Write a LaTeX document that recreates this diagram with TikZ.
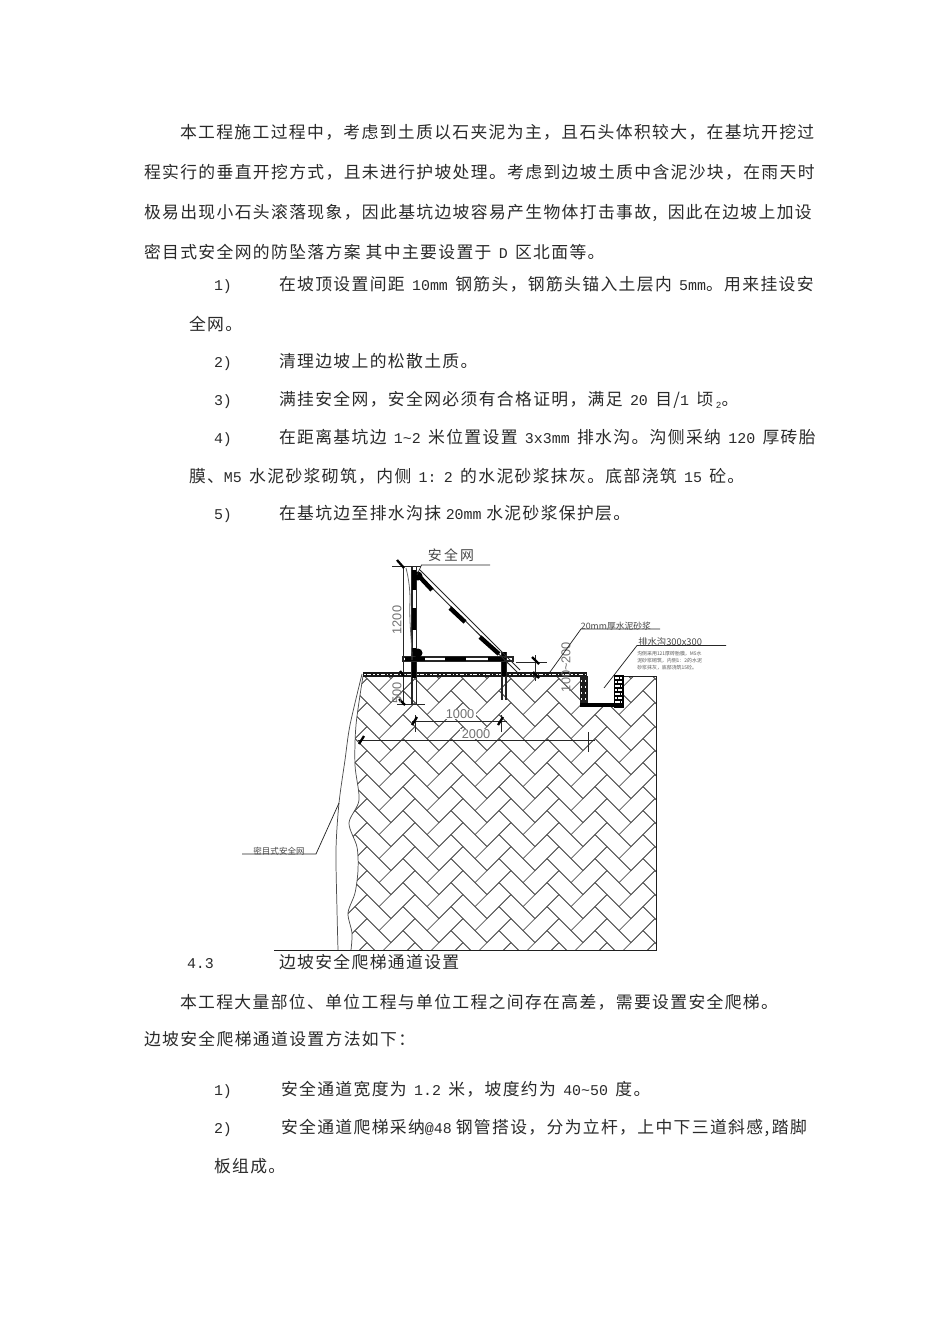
\documentclass[tikz,border=0pt]{standalone}
\usepackage{fontspec}
\setmainfont{Noto Sans CJK SC}[LetterSpace=8.1]
\newfontfamily\monof{Liberation Mono}
\newfontfamily\sansf{Liberation Sans}
\newfontfamily\cnplain{Noto Sans CJK SC}
\newcommand{\mm}[1]{{\monof\fontsize{11.2pt}{13pt}\selectfont #1}}
\newcommand{\gp}{\hspace{5.5pt}}
\definecolor{ink}{HTML}{2A2A2A}
\definecolor{dimc}{HTML}{707070}
\tikzset{
  txt/.style={anchor=base west,yshift=-4.8pt,inner sep=0pt,outer sep=0pt,text=ink,font=\fontsize{12.6pt}{15pt}\selectfont},
  brick/.style={draw=black!66,line width=0.55pt,line join=miter},
  thinl/.style={draw=black!85,line width=0.55pt},
  outl/.style={draw=black!88,line width=0.75pt},
  dimtxt/.style={inner sep=0pt,text=dimc,font=\sansf\fontsize{9.6pt}{11pt}\selectfont},
  slash/.style={draw=black,line width=1.7pt},
  tiny/.style={inner sep=0pt,anchor=west,text=black!65,font=\cnplain\fontsize{3.7pt}{5pt}\selectfont},
  lbl/.style={inner sep=0pt,text=black!72,font=\cnplain\fontsize{7pt}{8pt}\selectfont},
}
\begin{document}
\begin{tikzpicture}[x=0.75pt,y=-0.75pt]
\useasboundingbox (0,0) rectangle (950,1344);
\fill[white] (0,0) rectangle (950,1344);
% body text
\node[txt] (t1) at (180,132) {本工程施工过程中，考虑到土质以石夹泥为主，且石头体积较大，在基坑开挖过};
\node[txt] (t2) at (144,172) {程实行的垂直开挖方式，且未进行护坡处理。考虑到边坡土质中含泥沙块，在雨天时};
\node[txt] (t3) at (144,212) {极易出现小石头滚落现象，因此基坑边坡容易产生物体打击事故,\hspace{8pt}因此在边坡上加设};
\node[txt] (t4) at (144,252) {密目式安全网的防坠落方案 其中主要设置于\gp\mm{D}\gp 区北面等。};
\node[txt] (n1) at (214,284) {\mm{1)}};
\node[txt] (t5) at (279,284) {在坡顶设置间距\gp\mm{10mm}\gp 钢筋头，钢筋头锚入土层内\gp\mm{5mm}。用来挂设安};
\node[txt] (t6) at (189,324) {全网。};
\node[txt] (n2) at (214,361) {\mm{2)}};
\node[txt] (t7) at (279,361) {清理边坡上的松散土质。};
\node[txt] (n3) at (214,399) {\mm{3)}};
\node[txt] (t8) at (279,399) {满挂安全网，安全网必须有合格证明，满足\gp\mm{20}\gp 目/\mm{1}\gp 顷\,\raisebox{-2pt}{\mm{\fontsize{7pt}{8pt}\selectfont 2}}。};
\node[txt] (n4) at (214,437) {\mm{4)}};
\node[txt] (t9) at (279,437) {在距离基坑边\gp\mm{1\char`\~2}\gp 米位置设置\gp\mm{3x3mm}\gp 排水沟。沟侧采纳\gp\mm{120}\gp 厚砖胎};
\node[txt] (t10) at (189,476) {膜、\mm{M5}\gp 水泥砂浆砌筑，内侧\gp\mm{1:\gp 2}\gp 的水泥砂浆抹灰。底部浇筑\gp\mm{15}\gp 砼。};
\node[txt] (n5) at (214,513) {\mm{5)}};
\node[txt] (t11) at (279,513) {在基坑边至排水沟抹\hspace{3.5pt}\mm{20mm}\hspace{3.5pt}水泥砂浆保护层。};
\node[txt] (t12) at (187,962) {\mm{4.3}};
\node[txt] (t13) at (279,962) {边坡安全爬梯通道设置};
\node[txt] (t14) at (180,1002) {本工程大量部位、单位工程与单位工程之间存在高差，需要设置安全爬梯。};
\node[txt] (t15) at (144,1039) {边坡安全爬梯通道设置方法如下：};
\node[txt] (n6) at (214,1089) {\mm{1)}};
\node[txt] (t16) at (281,1089) {安全通道宽度为\gp\mm{1.2}\gp 米，坡度约为\gp\mm{40\char`\~50}\gp 度。};
\node[txt] (n7) at (214,1127) {\mm{2)}};
\node[txt] (t17) at (281,1127) {安全通道爬梯采纳\mm{@48}\hspace{3pt}钢管搭设，分为立杆，上中下三道斜感,\hspace{2pt}踏脚};
\node[txt] (t18) at (214,1166) {板组成。};
% herringbone soil
\begin{scope}
\clip (363,676) -- (580,676) -- (580,707) -- (623,707) -- (623,676) -- (656,676) -- (656,950) -- (351,950)
  -- plot[smooth] coordinates {(351,950) (352,933) (348,913) (355,893) (358,870) (357,847) (349,823) (359,800) (355,765) (356,725) (363,676)} -- cycle;
\foreach \i in {0,...,8} \foreach \j in {0,...,13} {
  \draw[brick,shift={(\i*48+307,\j*24+642.7)}] (0,0) -- (24,24) -- (36,12) -- (12,-12) -- cycle
     (24,24) -- (36,36) -- (60,12) -- (48,0) -- cycle;
}
\end{scope}
% outline
\draw[outl] (617,676) -- (656,676) -- (656,950) -- (274,950);
\draw[thinl,draw=black!70] plot[smooth] coordinates {(351,950) (352,933) (348,913) (355,893) (358,870) (357,847) (349,823) (359,800) (355,765) (356,725) (363,676)};
% safety net slope
\draw[thinl,draw=black!70] plot[smooth] coordinates {(362,674) (350,725) (345,760) (339,803) (336,850) (337,910) (338,950)};
% net leader
\draw[thinl] (242,854) -- (316,854) -- (339,803);
\node[lbl,anchor=center,font=\cnplain\fontsize{6.4pt}{8pt}\selectfont] (wn) at (279,851) {密目式安全网};
% ground band
\fill[black!90] (363,672) rectangle (587,676.5);
\draw[white,line width=0.7pt,dash pattern=on 1.5pt off 1pt on 3pt off 1.6pt on 0.8pt off 2pt] (364,674.2) -- (586,674.2);
% trench
\fill[black!88] (580,676) rectangle (588,707);
\foreach \yy in {681,687,693,699} {\draw[white,line width=0.8pt,dash pattern=on 1pt off 2pt] (581,\yy) -- (587,\yy);}
\fill[black] (580,703) rectangle (623,707);
\draw[black,line width=0.9pt] (614.5,676) rectangle (623,707);
\foreach \yy in {680,684,688,692,696,700} {\draw[black,line width=0.8pt] (614.5,\yy) -- (623,\yy);}
\foreach \yy/\xx in {678/619,682/617,686/620,690/617,694/620,698/617,702/620} {\draw[black,line width=0.7pt] (\xx,\yy-2) -- (\xx,\yy+2);}
% frame: posts
\draw[black!85,line width=0.8pt] (412,567) -- (412,704) (416.5,567) -- (416.5,704);
\draw[black,line width=2.4pt] (414,570) -- (414,590) (414,608) -- (414,630) (414,648) -- (414,678);
\draw[black!85,line width=0.8pt] (502,652) -- (502,700) (506,652) -- (506,700);
\draw[black,line width=3pt] (504,652) -- (504,676);
% frame: horizontal bar
\draw[black!85,line width=0.8pt] (403,657) -- (513,657) -- (513,661) -- (403,661) -- cycle;
\draw[black,line width=2.6pt] (405,659) -- (425,659) (445,659) -- (466,659) (488,659) -- (504,659);
% frame: diagonal
\draw[black!85,line width=0.7pt] (416,572) -- (518,673) (420,570) -- (520,670);
\draw[black,line width=3.3pt] (417,574) -- (432,590) (450,608) -- (465,622) (480,637) -- (499,654);
\fill[black] (418,576) circle (4.5);
\fill[black] (418,653) circle (4.5);
% net sag
\draw[black!60,line width=0.6pt] (406,568) .. controls (409,580) and (410,590) .. (410,600) .. controls (409,625) and (412,640) .. (412,660);
% dimension 1200 / 500
\draw[thinl] (403,566) -- (403,704);
\draw[thinl] (392,566) -- (421,566);
\draw[thinl] (397,704) -- (425,704);
\draw[slash] (397,560) -- (404,568);
\draw[slash] (400,671) -- (404,676);
\draw[slash] (399,699) -- (405,705);
\node[dimtxt,rotate=90] (d1200) at (397,620) {1200};
\node[dimtxt,rotate=90] (d500) at (397,693) {500};
% dimension 1000
\draw[thinl] (412,721) -- (507,721);
\draw[thinl] (415,715) -- (415,732) (501,715) -- (501,732);
\draw[slash] (412,725) -- (417,717);
\draw[slash] (498,725) -- (503,717);
\node[dimtxt,fill=white,inner xsep=1pt] (d1000) at (460,714) {1000};
% dimension 2000
\draw[thinl] (358,740.5) -- (595,740.5);
\draw[thinl] (588,732) -- (588,752);
\draw[slash] (359,744) -- (364,736);
\node[dimtxt,fill=white,inner xsep=1pt] (d2000) at (476,734) {2000};
% dimension 100~200
\draw[thinl] (516,662) -- (547,662);
\draw[thinl] (535,655) -- (535,681);
\draw[slash] (532,657) -- (539,664);
\draw[slash] (533,672) -- (539,678);
\node[dimtxt,rotate=90] (d100) at (566,667) {100\char`\~200};
% leaders
\coordinate (a1) at (490,565);
\coordinate (a2) at (421.5,565);
\coordinate (a3) at (417,575);
\draw[thinl] (a1) -- (a2) -- (a3);
\node[lbl,font=\cnplain\fontsize{10.4pt}{12pt}\selectfont] (anw) at (451,555) {安\,全\,网};
\draw[thinl] (660,629) -- (581,629) -- (550,672);
\node[lbl,anchor=center,font=\cnplain\fontsize{6.6pt}{8pt}\selectfont] (mortar) at (616,626) {20mm厚水泥砂浆};
\draw[thinl] (726,645.5) -- (637,645.5) -- (604,688);
\node[lbl,anchor=west,font=\cnplain\fontsize{7pt}{8pt}\selectfont] (drain) at (638,642) {排水沟300x300};
\node[tiny] (d1) at (637,654) {沟侧采用121厚砖胎膜，M5水};
\node[tiny] (d2) at (637,661) {泥砂浆砌筑，内侧1：2的水泥};
\node[tiny] (d3) at (637,668) {砂浆抹灰，底部浇筑15砼。};
\end{tikzpicture}
\end{document}
